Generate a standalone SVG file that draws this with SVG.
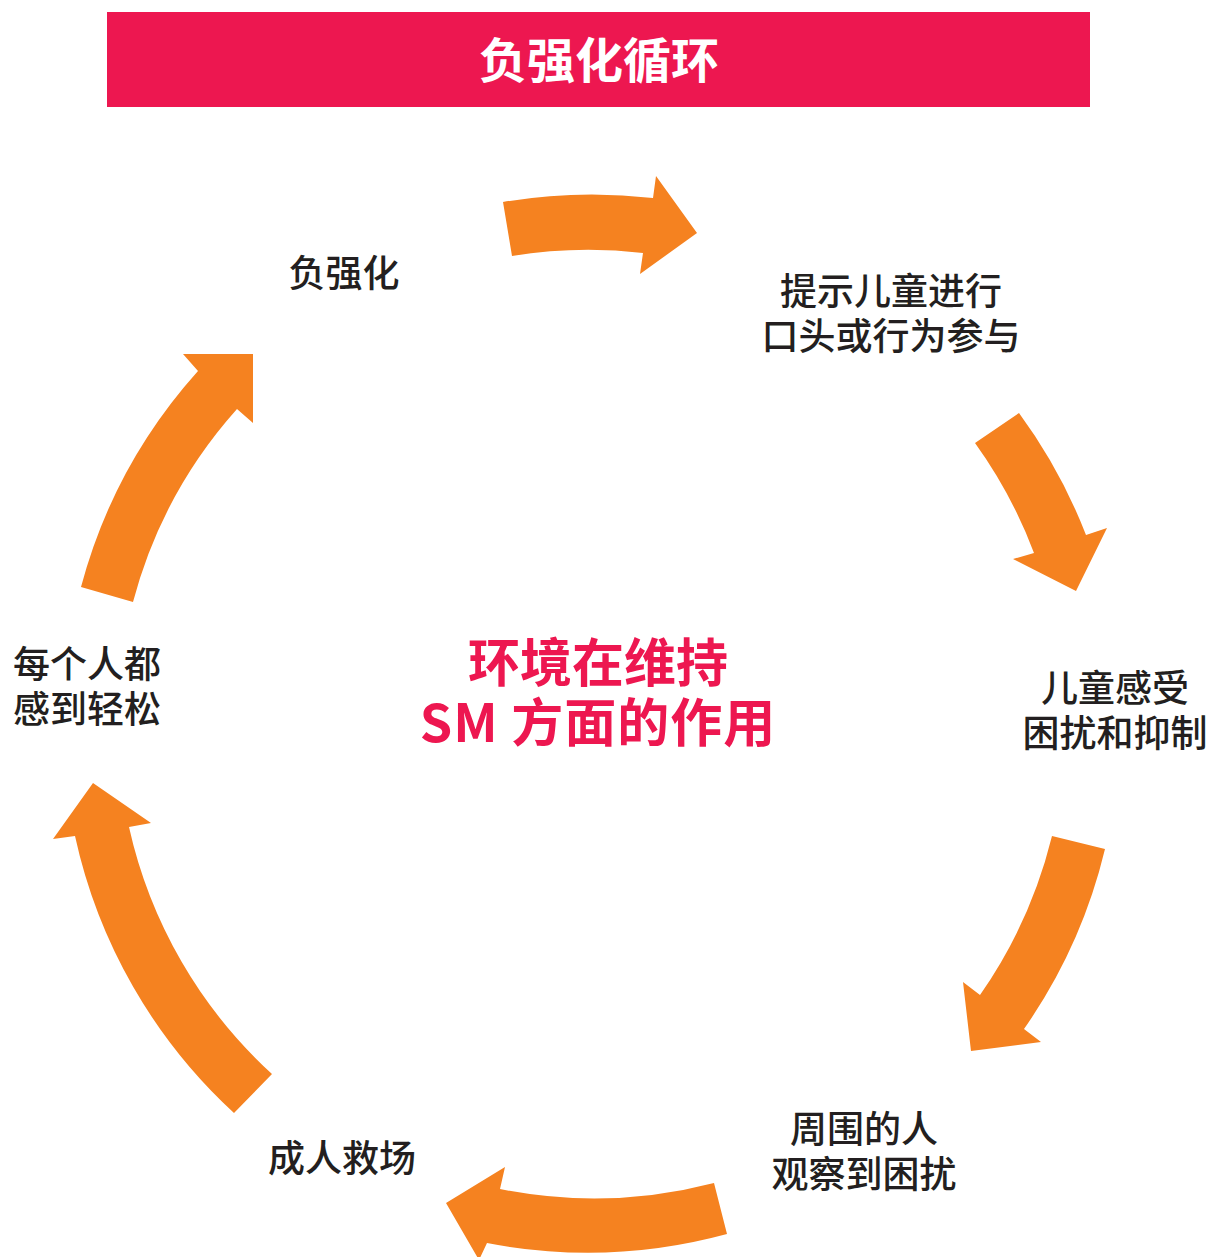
<svg xmlns="http://www.w3.org/2000/svg" width="1219" height="1257" viewBox="0 0 1219 1257">
<style>
.arrow{fill:#F58220;}
.lbl{font-family:"Noto Sans CJK SC","Noto Sans",sans-serif;font-size:37px;font-weight:500;fill:#231F20;text-anchor:middle;}
.ctr{font-family:"Noto Sans CJK SC","Noto Sans",sans-serif;font-size:52px;font-weight:bold;fill:#ED1750;text-anchor:middle;}
.ttl{font-family:"Noto Sans CJK SC","Noto Sans",sans-serif;font-size:48px;font-weight:bold;fill:#FFFFFF;text-anchor:middle;}
</style>
<rect width="1219" height="1257" fill="#FFFFFF"/>
<g id="title">
<rect x="107" y="12" width="983" height="95" fill="#ED1750"/>
<text class="ttl" x="599" y="78">负强化循环</text>
</g>
<g id="center">
<text class="ctr" x="598" y="682">环境在维持</text>
<text class="ctr" x="598" y="742" letter-spacing="1">SM 方面的作用</text>
</g>
<g id="connectors">
<path class="arrow" d="M503,202 A528,528 0 0 1 653,198 L656,176 L697,233 L640,274 L643,253 A473,473 0 0 0 512,256 Z"/>
<path class="arrow" d="M1019,413 A528,528 0 0 1 1086,535 L1107,528 L1076,591 L1013,559 L1034,553 A473,473 0 0 0 975,443 Z"/>
<path class="arrow" d="M1105,849 A530,530 0 0 1 1024,1029 L1041,1042 L971,1051 L963,982 L980,995 A476,476 0 0 0 1052,836 Z"/>
<path class="arrow" d="M727,1234 A531,531 0 0 1 487,1243 L479,1260 L446,1203 L505,1167 L500,1189 A477,477 0 0 0 714,1183 Z"/>
<path class="arrow" d="M234,1113 A530,530 0 0 1 75,836 L53,839 L93,783 L151,823 L129,827 A474,474 0 0 0 272,1074 Z"/>
<path class="arrow" d="M81,587 A527,527 0 0 1 198,371 L183,354 L253,354 L253,423 L237,409 A471,471 0 0 0 133,602 Z"/>
</g>
<g id="n1"><text class="lbl" x="344" y="287">负强化</text></g>
<g id="n2"><text class="lbl" x="891" y="305">提示儿童进行</text><text class="lbl" x="891" y="350">口头或行为参与</text></g>
<g id="n3"><text class="lbl" x="1115" y="702">儿童感受</text><text class="lbl" x="1115" y="747">困扰和抑制</text></g>
<g id="n4"><text class="lbl" x="864" y="1143">周围的人</text><text class="lbl" x="864" y="1188">观察到困扰</text></g>
<g id="n5"><text class="lbl" x="342" y="1172">成人救场</text></g>
<g id="n6"><text class="lbl" x="87" y="678">每个人都</text><text class="lbl" x="87" y="723">感到轻松</text></g>
</svg>
